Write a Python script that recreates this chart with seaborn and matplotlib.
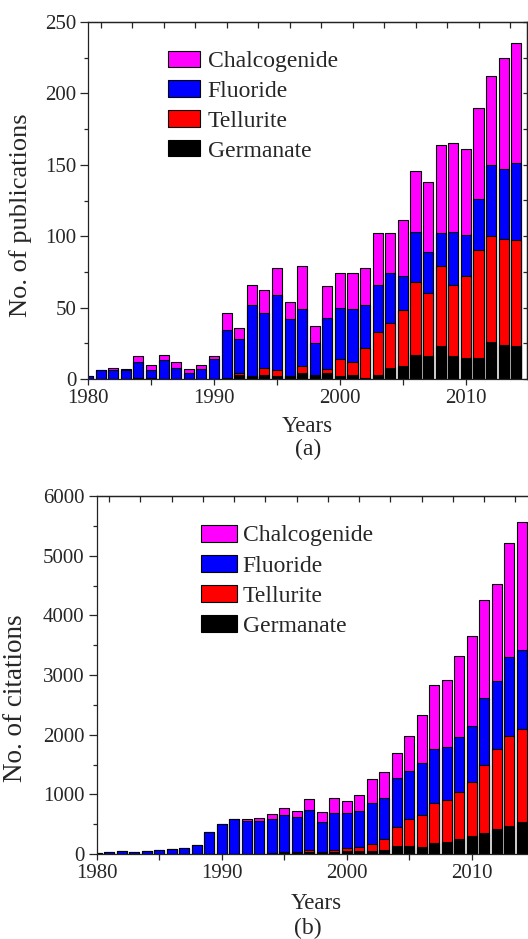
import numpy as np
import pandas as pd
import matplotlib
matplotlib.use("Agg")
import matplotlib.pyplot as plt
import seaborn as sns
from matplotlib.patches import Patch
from matplotlib.ticker import MultipleLocator, FixedLocator, NullFormatter

# ---------------- data ----------------
years = list(range(1980, 2015))

series_names = ["Chalcogenide", "Fluoride", "Tellurite", "Germanate"]

# (a) number of publications
pub_germanate = [0, 0, 0, 0, 1, 1, 0, 0, 0, 0,
                 0, 0, 3, 2, 3, 2, 2, 4, 2, 4,
                 2, 3, 1, 3, 8, 9, 17, 16, 23, 16,
                 15, 15, 26, 24, 23]
pub_tellurite = [0, 0, 0, 0, 0, 0, 0, 0, 0, 0,
                 0, 1, 1, 0, 5, 4, 0, 5, 1, 3,
                 12, 9, 21, 30, 31, 39, 51, 44, 56, 50,
                 57, 75, 74, 74, 74]
pub_fluoride = [2, 6, 6, 6, 11, 5, 13, 8, 4, 7,
                14, 33, 24, 50, 38, 53, 40, 40, 22, 36,
                36, 37, 30, 33, 35, 24, 35, 29, 23, 37,
                29, 36, 50, 49, 54]
pub_chalcogenide = [0, 0, 2, 1, 4, 4, 4, 4, 3, 3,
                    2, 12, 8, 14, 16, 19, 12, 30, 12, 22,
                    24, 25, 26, 36, 28, 39, 43, 49, 62, 62,
                    60, 64, 62, 78, 84]

# (b) number of citations
cit_germanate = [0, 0, 0, 0, 0, 0, 0, 0, 0, 0,
                 0, 0, 0, 0, 5, 10, 15, 30, 15, 39,
                 50, 50, 50, 67, 134, 134, 112, 179, 207, 251,
                 302, 346, 413, 469, 542]
cit_tellurite = [0, 0, 0, 0, 0, 0, 0, 0, 0, 0,
                 0, 0, 0, 5, 20, 25, 25, 30, 24, 28,
                 45, 73, 112, 184, 324, 453, 542, 681, 698, 783,
                 910, 1146, 1341, 1509, 1547]
cit_fluoride = [10, 33, 50, 33, 56, 67, 78, 95, 145, 374,
                503, 592, 553, 540, 560, 620, 575, 676, 503, 615,
                598, 598, 687, 682, 821, 804, 866, 894, 894, 921,
                933, 1128, 1151, 1318, 1330]
cit_chalcogenide = [0, 0, 0, 0, 0, 0, 0, 0, 0, 0,
                    0, 0, 28, 60, 80, 110, 100, 180, 156, 262,
                    195, 268, 402, 436, 408, 592, 810, 1079, 1117, 1364,
                    1515, 1637, 1620, 1922, 2140]

# ---------------- style ----------------
MAGENTA = "#ff00ff"
BLUE = "#0000ff"
RED = "#ff0000"
BLACK = "#000000"
colors = [MAGENTA, BLUE, RED, BLACK]

sns.set_style("ticks")
plt.rcParams["font.family"] = ["Liberation Serif", "DejaVu Serif"]
plt.rcParams["axes.linewidth"] = 0.9
plt.rcParams["axes.edgecolor"] = "#222222"

fig = plt.figure(figsize=(5.28, 9.39), dpi=100)
W, H = 528.0, 939.0


def px_axes(left, top, right, bottom):
    return fig.add_axes([left / W, 1 - bottom / H, (right - left) / W, (bottom - top) / H])


ax1 = px_axes(88, 22, 527, 379)
ax2 = px_axes(96.5, 496, 96.5 + 34.85 * 12.5, 854)


def draw(ax, G, T, F, C):
    df = pd.DataFrame({"year": years, "G": G, "T": T, "F": F, "C": C})
    df["cum_T"] = df["G"] + df["T"]
    df["cum_F"] = df["cum_T"] + df["F"]
    df["cum_C"] = df["cum_F"] + df["C"]
    for col, color in [("cum_C", MAGENTA), ("cum_F", BLUE), ("cum_T", RED), ("G", BLACK)]:
        sns.barplot(data=df, x="year", y=col, native_scale=True, color=color,
                    saturation=1, edgecolor="black", linewidth=0.8, width=0.8,
                    errorbar=None, ax=ax)


draw(ax1, pub_germanate, pub_tellurite, pub_fluoride, pub_chalcogenide)
draw(ax2, cit_germanate, cit_tellurite, cit_fluoride, cit_chalcogenide)

TICKFS = 15
top_tick_pos = list(np.arange(1981, 2014, 2.5))

for ax, ymax, ymaj, ymin in [(ax1, 250, 50, 25), (ax2, 6000, 1000, 500)]:
    ax.set_xlim(1980, 2014.85)
    ax.set_ylim(0, ymax)
    ax.xaxis.set_major_locator(MultipleLocator(10))
    ax.xaxis.set_minor_locator(MultipleLocator(5))
    ax.yaxis.set_major_locator(MultipleLocator(ymaj))
    ax.yaxis.set_minor_locator(MultipleLocator(ymin))
    ax.tick_params(axis="x", which="both", direction="out", length=4.5, width=0.9,
                   labelsize=TICKFS, pad=3, top=False)
    ax.tick_params(axis="y", which="major", direction="out", length=5.5, width=0.9,
                   labelsize=TICKFS, pad=3, right=False)
    ax.tick_params(axis="y", which="minor", direction="out", length=3, width=0.9, right=False)
    for s in ax.spines.values():
        s.set_visible(True)
        s.set_linewidth(0.9)
    sec = ax.secondary_xaxis("top")
    sec.xaxis.set_major_locator(FixedLocator(top_tick_pos))
    sec.xaxis.set_major_formatter(NullFormatter())
    sec.tick_params(axis="x", direction="in", length=4.5, width=0.9)
    ax.set_xlabel("Years", fontsize=16.5)

sec_r = ax1.secondary_yaxis("right")
sec_r.yaxis.set_major_locator(MultipleLocator(25))
sec_r.yaxis.set_major_formatter(NullFormatter())
sec_r.tick_params(axis="y", direction="in", length=3, width=0.9)

ax1.set_ylabel("No. of publications", fontsize=19)
ax2.set_ylabel("No. of citations", fontsize=19.5)
ax1.yaxis.set_label_coords(-0.128, 0.46)
ax2.yaxis.set_label_coords(-0.158, 0.435)
ax1.xaxis.set_label_coords(0.5, -0.104)
ax2.xaxis.set_label_coords(0.505, -0.108)

fig.text(308 / W, 1 - 449 / H, "(a)", ha="center", va="center", fontsize=17)
fig.text(308 / W, 1 - 928 / H, "(b)", ha="center", va="center", fontsize=17)

handles = [Patch(facecolor=c, edgecolor="black", linewidth=0.8) for c in colors]
ax1.legend(handles, series_names, loc="upper left", bbox_to_anchor=(0.182, 0.92),
           frameon=False, fontsize=17, borderpad=0, borderaxespad=0,
           handlelength=1.36, handleheight=0.68, handletextpad=0.33, labelspacing=0.36)
ax2.legend(handles, series_names, loc="upper left", bbox_to_anchor=(0.239, 0.92),
           frameon=False, fontsize=17, borderpad=0, borderaxespad=0,
           handlelength=1.53, handleheight=0.73, handletextpad=0.25, labelspacing=0.36)

fig.savefig("out.png", dpi=100)
